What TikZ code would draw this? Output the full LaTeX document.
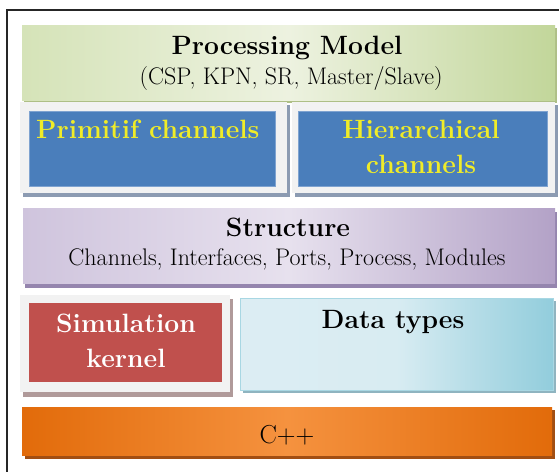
\documentclass[tikz,border=0pt]{standalone}
\usepackage{fontspec}
\definecolor{frameC}{HTML}{262626}
\definecolor{greenL}{HTML}{D5E3B8}
\definecolor{greenM}{HTML}{EDF2E0}
\definecolor{greenR}{HTML}{C2D69A}
\definecolor{greenS}{HTML}{AEBF86}
\definecolor{panelC}{HTML}{F2F2F2}
\definecolor{panelS}{HTML}{8C9BB2}
\definecolor{blueC}{HTML}{4A7EBB}
\definecolor{blueE}{HTML}{7FA3D0}
\definecolor{yellowT}{HTML}{F0EC28}
\definecolor{purL}{HTML}{CFC4DD}
\definecolor{purM}{HTML}{E7E1EE}
\definecolor{purR}{HTML}{B3A2C7}
\definecolor{purS}{HTML}{9585AE}
\definecolor{redC}{HTML}{C0504D}
\definecolor{redS}{HTML}{B09A9A}
\definecolor{aquaL}{HTML}{DCEDF3}
\definecolor{aquaM}{HTML}{D8ECF2}
\definecolor{aquaR}{HTML}{92CDDC}
\definecolor{aquaS}{HTML}{8FB4C0}
\definecolor{orL}{HTML}{E26B0A}
\definecolor{orM}{HTML}{F5923F}
\definecolor{orR}{HTML}{E26B0A}
\definecolor{orS}{HTML}{A24E12}
\tikzset{
  box/.style={anchor=north west, inner sep=0pt, outer sep=0pt, draw=none},
  head/.style={anchor=base, inner sep=0pt, font=\rmfamily\bfseries\fontsize{26.5}{29}\selectfont},
  sub/.style={anchor=base, inner sep=0pt, font=\rmfamily\fontsize{24}{26}\selectfont}
}
\begin{document}
\begin{tikzpicture}[x=1pt,y=-1pt]
\useasboundingbox (0,0) rectangle (559,471);
\fill[white] (0,0) rectangle (559,471);
\clip (0,0) rectangle (559,471);
% outer frame (cropped at right and bottom)
\draw[frameC, line width=2pt] (7,480) -- (7,10) -- (570,10);

% Processing model
\fill[greenS] (24,28) rectangle (557,103);
\node[box, minimum width=533pt, minimum height=75pt, left color=greenL, right color=greenR, middle color=greenM] (pm) at (22,25) {};
\node[head] (pmt) at (287,54) {Processing Model};
\node[sub] (pms) at (291,84) {(CSP, KPN, SR, Master/Slave)};

% Primitif channels panel
\fill[panelS] (23,105) rectangle (290,197);
\node[box, fill=panelC, minimum width=267pt, minimum height=91pt] (pp) at (20,102) {};
\node[box, fill=blueC, draw=blueE, line width=0.6pt, minimum width=246pt, minimum height=75pt] (pc) at (29,111) {};
\node[head, anchor=base west, text=yellowT] (pct) at (36,138) {Primitif channels};

% Hierarchical channels panel
\fill[panelS] (295,105) rectangle (558,197);
\node[box, fill=panelC, minimum width=263pt, minimum height=91pt] (hp) at (292,102) {};
\node[box, fill=blueC, draw=blueE, line width=0.6pt, minimum width=249pt, minimum height=75pt] (hc) at (298,111) {};
\node[head, text=yellowT] (hct1) at (421,138) {Hierarchical};
\node[head, text=yellowT] (hct2) at (421,173) {channels};

% Structure
\fill[purS] (25,212) rectangle (557,288);
\node[box, minimum width=532pt, minimum height=75pt, left color=purL, right color=purR, middle color=purM] (st) at (23,208) {};
\node[head] (stt) at (288,236) {Structure};
\node[sub] (sts) at (287,265) {Channels, Interfaces, Ports, Process, Modules};

% Simulation kernel
\fill[redS] (23,299) rectangle (233,397);
\node[box, fill=panelC, minimum width=210pt, minimum height=97pt] (sp) at (20,295) {};
\node[box, fill=redC, minimum width=193pt, minimum height=79pt] (sk) at (29,303) {};
\node[head, text=white] (skt1) at (126,332) {Simulation};
\node[head, text=white] (skt2) at (126,367) {kernel};

% Data types
\fill[aquaS] (243,301) rectangle (556,393);
\node[box, minimum width=313pt, minimum height=92pt, left color=aquaL, right color=aquaR, middle color=aquaM, draw=aquaR!80!white, line width=0.6pt] (dt) at (240,298) {};
\node[head] (dtt) at (393,328) {Data types};

% C++
\fill[orS] (25,410) rectangle (555,459);
\node[box, minimum width=530pt, minimum height=48pt, left color=orL, right color=orR, middle color=orM] (cpp) at (22,407) {};
\node[head, font=\rmfamily\fontsize{26}{28}\selectfont] (cppt) at (287,443) {C++};
\end{tikzpicture}
\end{document}
